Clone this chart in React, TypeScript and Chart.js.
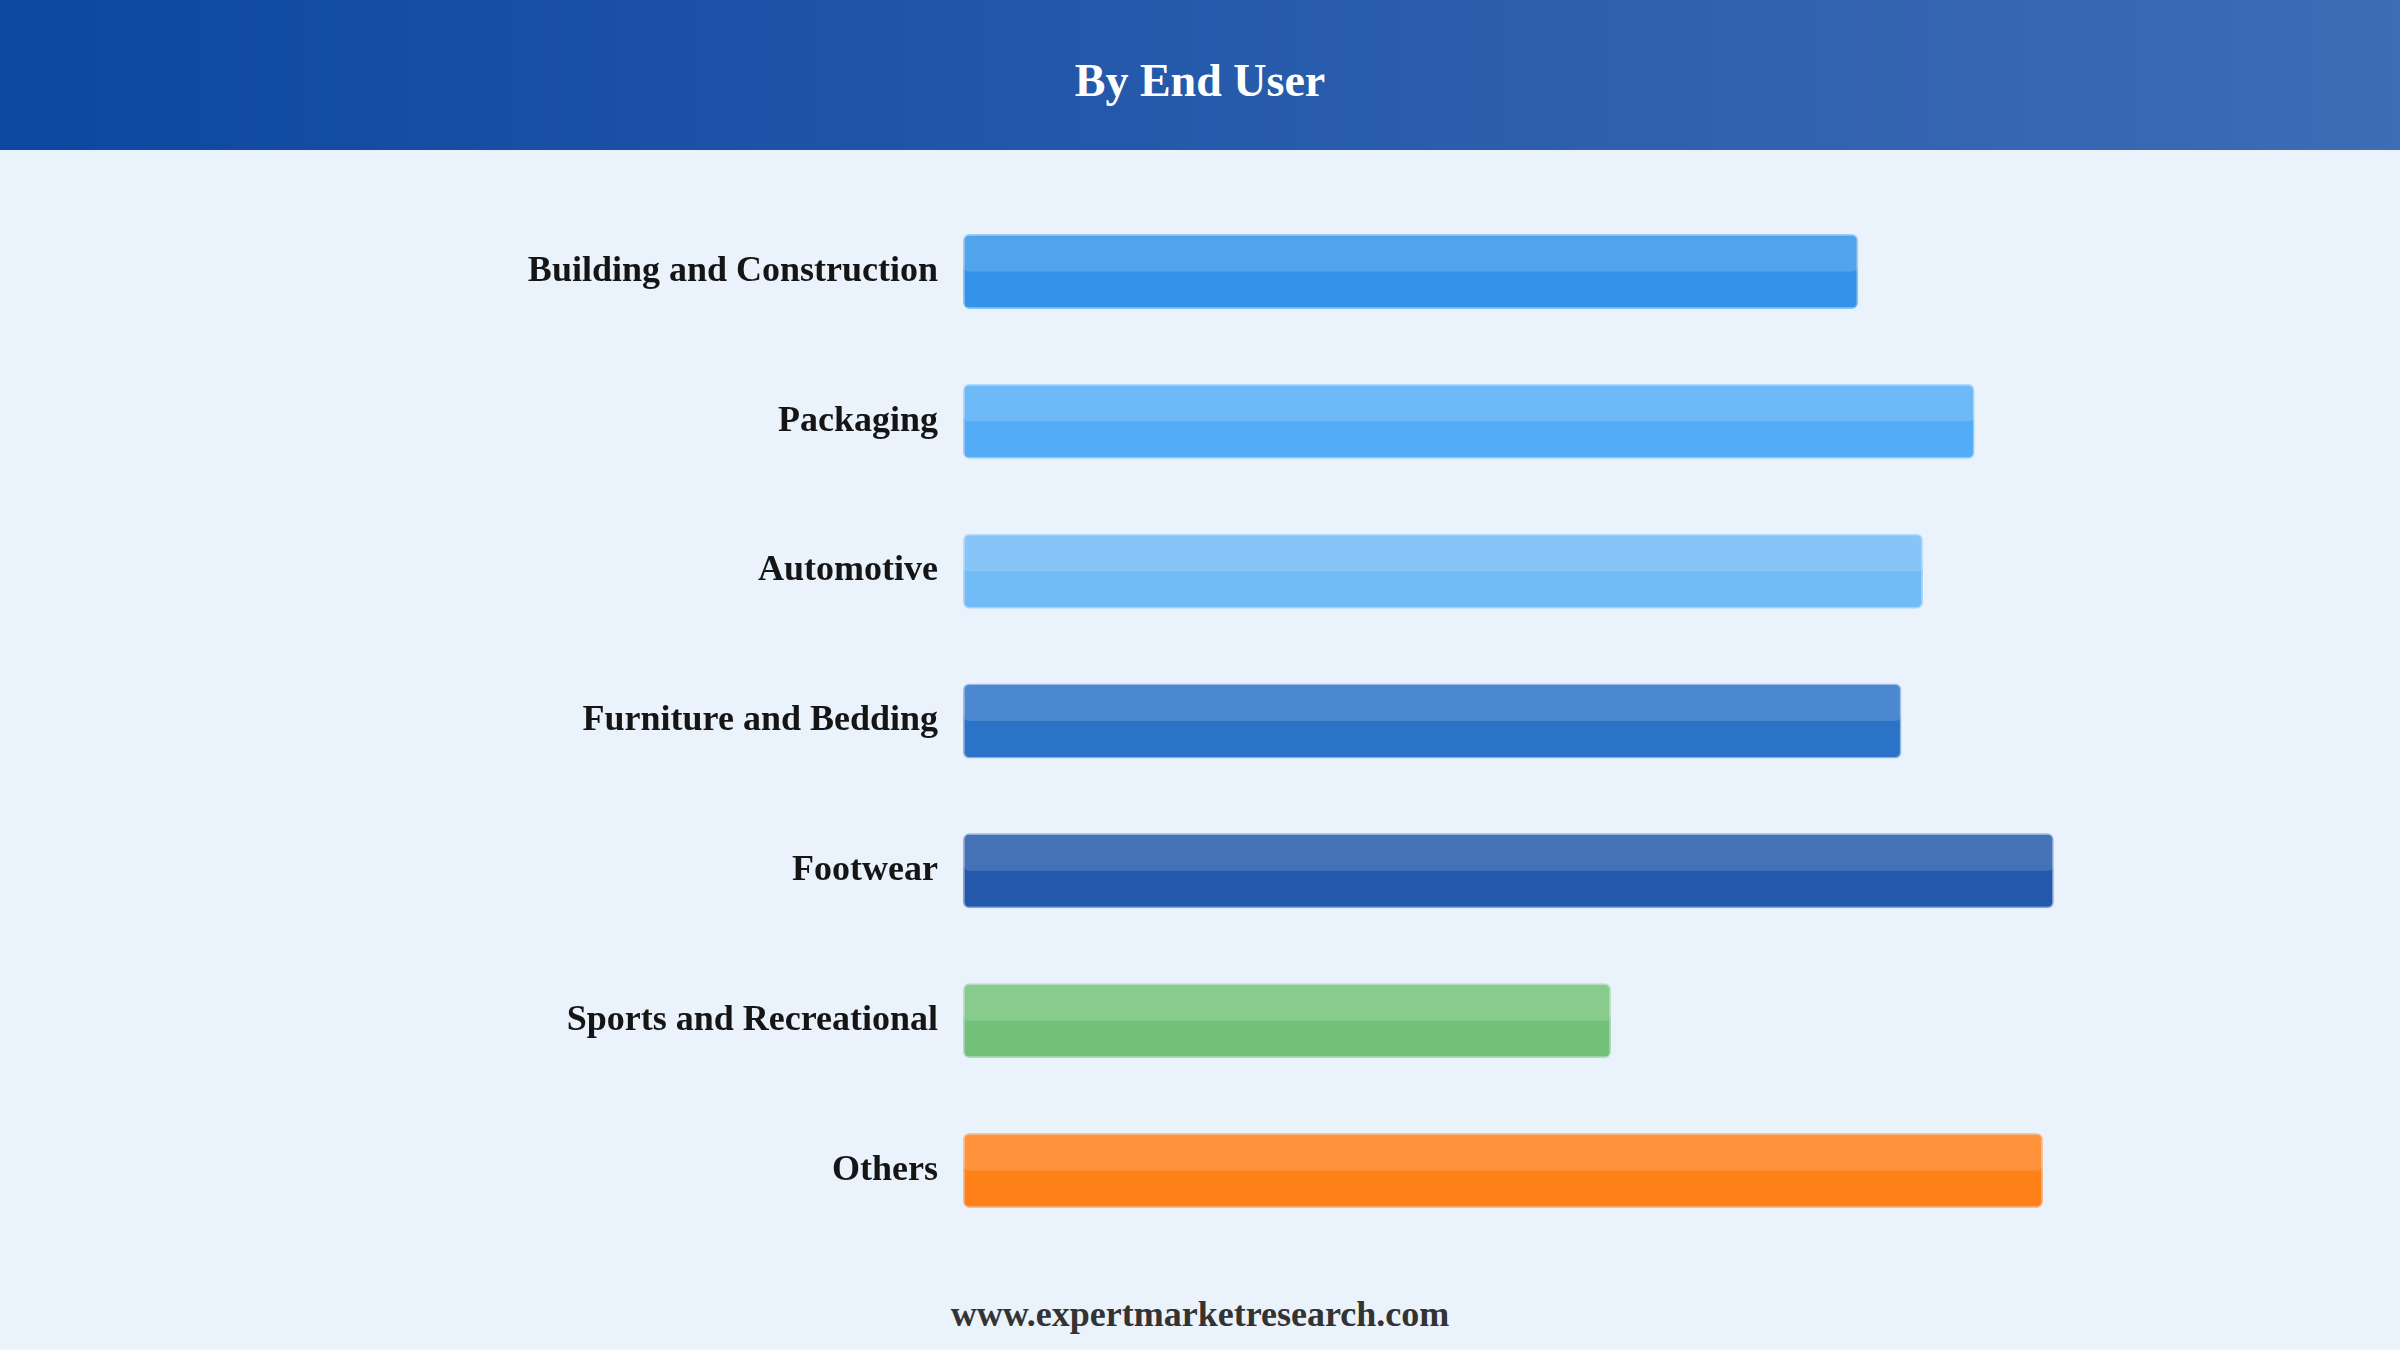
import { useEffect, useRef } from "react";
import { Chart, registerables } from "chart.js";

Chart.register(...registerables);

const categories = [
  "Building and Construction",
  "Packaging",
  "Automotive",
  "Furniture and Bedding",
  "Footwear",
  "Sports and Recreational",
  "Others",
];
const values = [74.6, 84.3, 80.0, 78.2, 90.9, 54.0, 90.0];
const barColors = ["#1E88E5", "#42A5F5", "#64B5F6", "#1565C0", "#0D47A1", "#66BB6A", "#FF7300"];

const SERIF = "'Times New Roman', 'Liberation Serif', serif";

function withAlpha(hex: string, a: number) {
  const n = parseInt(hex.slice(1), 16);
  return `rgba(${(n >> 16) & 255}, ${(n >> 8) & 255}, ${n & 255}, ${a})`;
}

// light band over the upper half of each bar
const glossPlugin = {
  id: "gloss",
  afterDatasetsDraw(chart: any) {
    const ctx = chart.ctx;
    const meta = chart.getDatasetMeta(0);
    ctx.save();
    ctx.fillStyle = "rgba(255,255,255,0.15)";
    meta.data.forEach((bar: any) => {
      const { x, y, base, height } = bar.getProps(["x", "y", "base", "height"], true);
      const left = Math.min(x, base);
      const w = Math.abs(x - base);
      ctx.beginPath();
      ctx.roundRect(left, y - height / 2, w, height / 2, 6);
      ctx.fill();
    });
    ctx.restore();
  },
};

export default function App() {
  const canvasEl = useRef<HTMLCanvasElement>(null);

  useEffect(() => {
    const chart = new Chart(canvasEl.current!, {
      type: "bar",
      data: {
        labels: categories,
        datasets: [
          {
            data: values,
            backgroundColor: barColors.map((c) => withAlpha(c, 0.9)),
            borderColor: barColors.map((c) => withAlpha(c, 0.45)),
            borderWidth: 1.5,
            borderRadius: 6,
            borderSkipped: false,
            categoryPercentage: 1,
            barPercentage: 0.5,
          },
        ],
      },
      options: {
        indexAxis: "y",
        animation: false,
        responsive: true,
        maintainAspectRatio: false,
        layout: { padding: { top: 45, bottom: 5, left: 0, right: 237 } },
        plugins: {
          legend: { display: false },
          tooltip: { enabled: false },
        },
        scales: {
          x: { display: false, min: 0, max: 100 },
          y: {
            afterFit: (scale: any) => {
              scale.width = 963;
            },
            grid: { display: false, drawTicks: false },
            border: { display: false },
            ticks: {
              padding: 25,
              color: "#151515",
              font: { family: SERIF, size: 36, weight: "bold" },
            },
          },
        },
      },
      plugins: [glossPlugin],
    });
    return () => {
      chart.destroy();
    };
  }, []);

  return (
    <div
      style={{
        position: "fixed",
        left: 0,
        top: 0,
        width: 2400,
        height: 1350,
        background: "#EAF2FC",
        fontFamily: SERIF,
        overflow: "hidden",
      }}
    >
      <div
        style={{
          position: "absolute",
          left: 0,
          top: 0,
          width: 2400,
          height: 150,
          background: "linear-gradient(90deg, #0D47A1 0%, #3E6CB5 100%)",
        }}
      >
        <div
          style={{
            position: "absolute",
            left: 0,
            right: 0,
            top: 58,
            textAlign: "center",
            color: "#fff",
            fontWeight: "bold",
            fontSize: 46,
            lineHeight: "46px",
          }}
        >
          By End User
        </div>
      </div>
      <div style={{ position: "absolute", left: 0, top: 150, width: 2400, height: 1142 }}>
        <canvas ref={canvasEl} />
      </div>
      <div
        style={{
          position: "absolute",
          left: 0,
          right: 0,
          top: 1296,
          textAlign: "center",
          color: "#333",
          fontWeight: "bold",
          fontSize: 36,
          lineHeight: "36px",
        }}
      >
        www.expertmarketresearch.com
      </div>
    </div>
  );
}
